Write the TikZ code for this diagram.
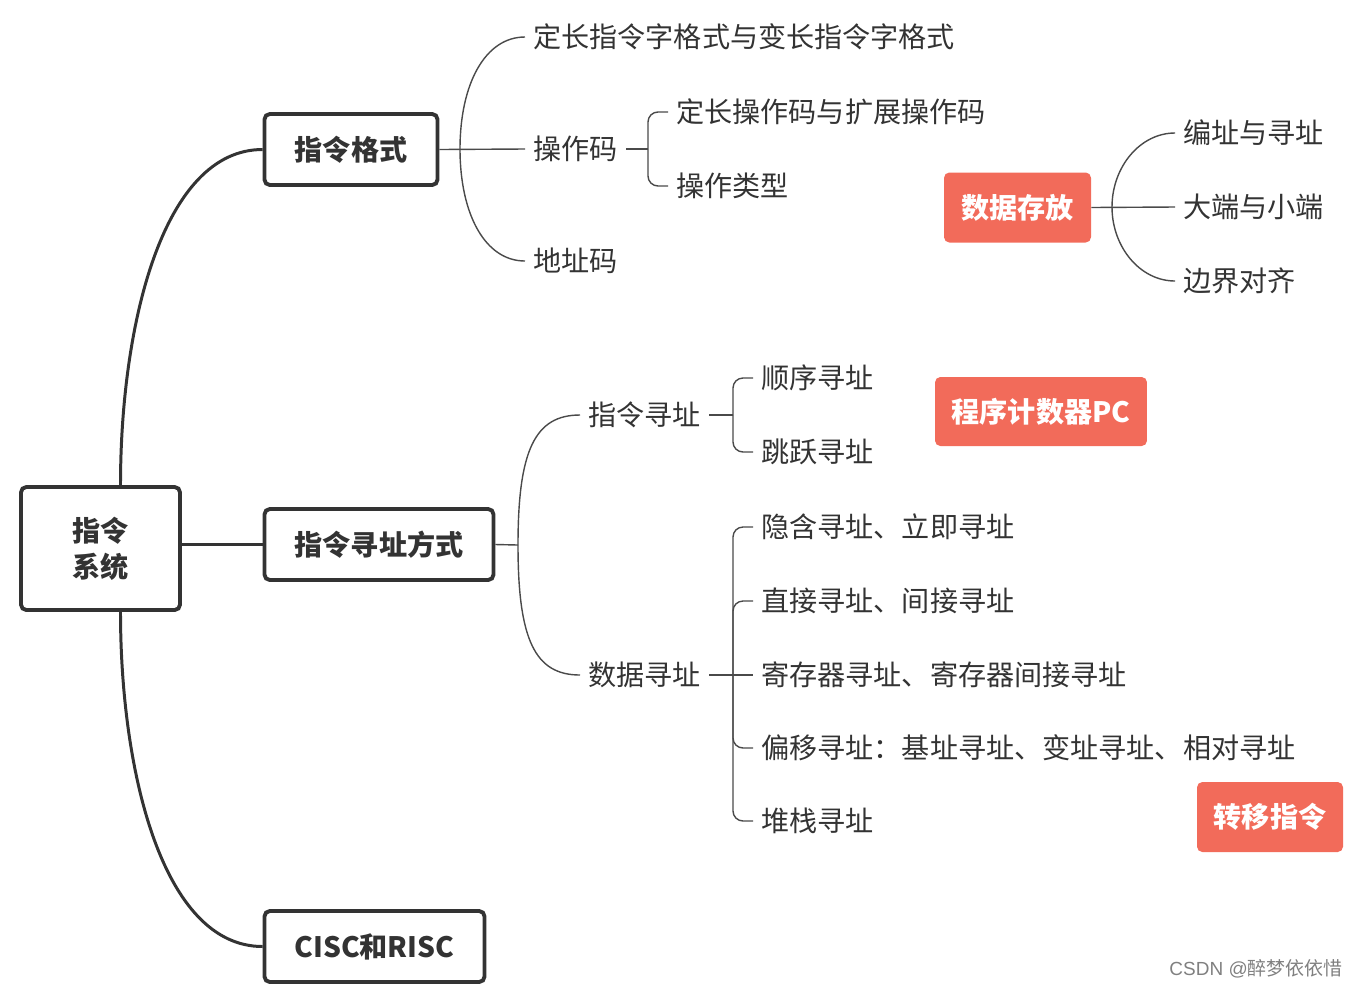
\documentclass[tikz,border=0pt]{standalone}
\usepackage{fontspec}
\setmainfont{Noto Sans CJK SC}
\newfontfamily\wmfont{Liberation Sans}
\usetikzlibrary{positioning}
\definecolor{inkgray}{HTML}{333333}
\definecolor{linegray}{HTML}{4A4A4A}
\definecolor{tagred}{HTML}{F26B5A}
\tikzset{topic/.style = {draw=inkgray, line width=2.2pt, rounded corners=3pt,
                         fill=white, text=inkgray, inner sep=0pt,
                         font=\bfseries\fontsize{16}{20.4}\selectfont,
                         minimum height=1.42cm},
         leaf/.style = {anchor=west, text=inkgray, inner xsep=0.16cm, inner ysep=0pt,
                        font=\fontsize{16}{19}\selectfont},
         tag/.style = {fill=tagred, rounded corners=3pt, text=white, inner sep=0pt,
                       font=\bfseries\fontsize{16}{19}\selectfont,
                       minimum height=1.4cm},
         trunk/.style = {draw=inkgray, line width=1.7pt},
         twig/.style = {draw=linegray, line width=0.8pt}}

\begin{document}
\begin{tikzpicture}[x=0.02cm, y=0.02cm]
      \useasboundingbox (0, 0) rectangle (1358, -988);

      % main topics
      \node [topic, minimum width=3.18cm, minimum height=2.46cm, align=center] (sys) at (100.5, -548.5) {指令\\系统};
      \node [topic, minimum width=3.46cm] (fmt) at (351, -149.5) {指令格式};
      \node [topic, minimum width=4.58cm] (addr) at (379, -544.5) {指令寻址方式};
      \node [topic, minimum width=4.40cm] (cisc) at (374.5, -946.5) {CISC和RISC};

      \draw [trunk] ([xshift=0.4cm]sys.north) to[out=90, in=180, out distance=3.2cm, in distance=2cm] (fmt.west);
      \draw [trunk] (sys.east |- addr.west) -- (addr.west);
      \draw [trunk] ([xshift=0.4cm]sys.south) to[out=-90, in=180, out distance=3.2cm, in distance=2cm] (cisc.west);

      % instruction format
      \coordinate (fmtj) at (460, -149);
      \node [leaf] (fixlen) at (525, -37) {定长指令字格式与变长指令字格式};
      \node [leaf] (opc) at (525, -149) {操作码};
      \node [leaf] (adc) at (525, -261) {地址码};
      \draw [twig] (fmt.east) -- (opc.west);
      \draw [twig] (fmtj) to[out=90, in=180, out distance=1.3cm, in distance=0.8cm] (fixlen.west);
      \draw [twig] (fmtj) to[out=-90, in=180, out distance=1.3cm, in distance=0.8cm] (adc.west);

      \coordinate (opcj) at (648, -149);
      \node [leaf] (opfix) at (668, -112) {定长操作码与扩展操作码};
      \node [leaf] (optype) at (668, -186) {操作类型};
      \draw [twig] (opc.east) -- (opcj);
      \foreach \n in {opfix, optype}
        \draw [twig, rounded corners=0.2cm] (\n.west) -| (opcj);

      % data storage
      \node [tag, minimum width=2.94cm] (store) at (1017.5, -207.5) {数据存放};
      \coordinate (storej) at (1112, -207);
      \node [leaf] (place) at (1175, -133) {编址与寻址};
      \node [leaf] (endian) at (1175, -207) {大端与小端};
      \node [leaf] (align) at (1175, -281) {边界对齐};
      \draw [twig] (store.east) -- (endian.west);
      \draw [twig] (storej) to[out=90, in=180, out distance=0.8cm, in distance=0.7cm] (place.west);
      \draw [twig] (storej) to[out=-90, in=180, out distance=0.8cm, in distance=0.7cm] (align.west);

      % addressing
      \coordinate (addrj) at (518, -545);
      \node [leaf] (insaddr) at (580, -415) {指令寻址};
      \node [leaf] (dataaddr) at (580, -675) {数据寻址};
      \draw [twig] (addr.east) -- (addrj);
      \draw [twig] (addrj) to[out=90, in=180, out distance=1.9cm, in distance=0.9cm] (insaddr.west);
      \draw [twig] (addrj) to[out=-90, in=180, out distance=1.9cm, in distance=0.9cm] (dataaddr.west);

      \coordinate (insj) at (733, -415);
      \node [leaf] (seq) at (753, -378) {顺序寻址};
      \node [leaf] (jump) at (753, -452) {跳跃寻址};
      \draw [twig] (insaddr.east) -- (insj);
      \foreach \n in {seq, jump}
        \draw [twig, rounded corners=0.2cm] (\n.west) -| (insj);
      \node [tag, minimum width=4.24cm, minimum height=1.38cm] (pc) at (1041, -411.5) {程序计数器PC};

      \coordinate (dataj) at (733, -675);
      \foreach \i/\y/\t in {1/527/隐含寻址、立即寻址, 2/601/直接寻址、间接寻址,
                            3/675/寄存器寻址、寄存器间接寻址,
                            4/748/偏移寻址：基址寻址、变址寻址、相对寻址, 5/821/堆栈寻址}
        \node [leaf] (d\i) at (753, -\y) {\t};
      \draw [twig] (dataaddr.east) -- (d3.west);
      \foreach \i in {1,2,4,5}
        \draw [twig, rounded corners=0.2cm] (d\i.west) -| (dataj);
      \node [tag, minimum width=2.92cm] (jmp) at (1270, -817) {转移指令};

      \node [anchor=east, text=gray, inner sep=0pt, font=\fontsize{10.8}{12}\selectfont] (mark) at (1343, -969) {{\wmfont CSDN @}醉梦依依惜};
\end{tikzpicture}
\end{document}
